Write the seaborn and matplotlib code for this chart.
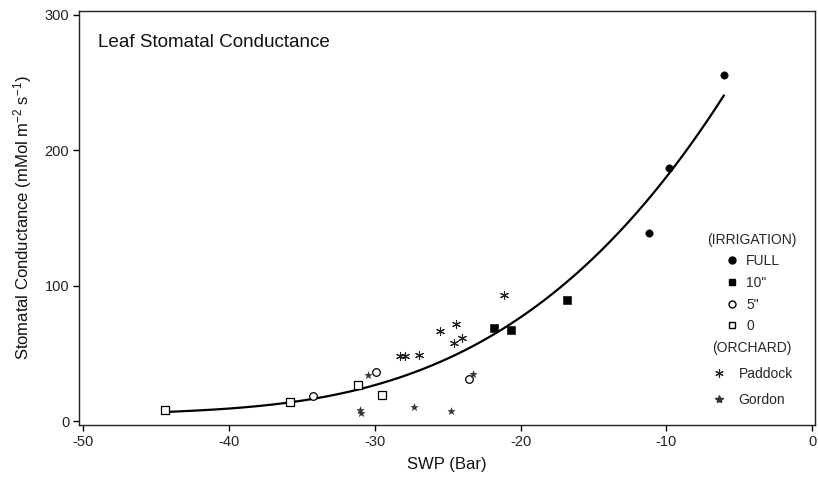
import matplotlib
matplotlib.use("Agg")
import matplotlib.pyplot as plt
from matplotlib.lines import Line2D
import seaborn as sns

# ---- data ----
full_x = [-6.05, -9.84, -11.19]
full_y = [255.2, 186.9, 138.9]
ten_x = [-16.83, -20.66, -21.81]
ten_y = [89.2, 67.1, 68.9]
five_x = [-23.52, -29.93, -34.25]
five_y = [31.3, 36.1, 19.0]
zero_x = [-29.52, -31.16, -35.85, -44.41]
zero_y = [19.2, 27.1, 14.3, 8.6]
paddock_x = [-21.16, -24.43, -25.53, -24.55, -24.02, -28.27, -27.93, -26.94]
paddock_y = [92.9, 72.0, 66.4, 57.8, 61.7, 47.9, 48.5, 49.2]
gordon_x = [-30.44, -23.29, -31.00, -30.94, -27.29, -24.79]
gordon_y = [33.9, 35.0, 8.1, 6.2, 10.3, 7.4]

# points
fit_x = [-44.4, -42.0, -40.0, -38.0, -35.85, -33.05, -31.68, -30.03, -27.12,
         -26.21, -25.53, -22.79, -20.96, -18.68, -16.40, -14.11, -11.83,
         -9.55, -7.72, -6.05]
fit_y = [6.9, 8.1, 9.1, 11.6, 14.3, 18.4, 22.1, 26.3, 38.1,
         40.6, 45.0, 55.8, 70.6, 87.3, 105.7, 129.1, 157.4,
         187.5, 214.0, 239.2]

x_ticks = [-50, -40, -30, -20, -10, 0]
y_ticks = [0, 100, 200, 300]
irr_labels = ["FULL", '10"', '5"', "0"]
orch_labels = ["Paddock", "Gordon"]

sns.set_theme(style="white")
plt.rcParams["font.family"] = ["Liberation Sans", "DejaVu Sans"]
plt.rcParams["mathtext.default"] = "regular"

fig = plt.figure(figsize=(8.18, 4.87), dpi=100)
ax = fig.add_axes([79 / 818, 1 - 425 / 487, 736 / 818, 414 / 487])

# fitted curve (smooth polynomial fit through the curve readings)
sns.regplot(x=fit_x, y=fit_y, ax=ax, order=3, scatter=False, ci=None,
            truncate=True, line_kws=dict(color="black", linewidth=1.6))

asterisk = (6, 2, 0)
groups = [
    (full_x, full_y, dict(marker="o", color="black", edgecolor="black", s=28)),
    (ten_x, ten_y, dict(marker="s", color="black", edgecolor="black", s=28)),
    (five_x, five_y, dict(marker="o", color="white", edgecolor="black", s=30, linewidth=0.9)),
    (zero_x, zero_y, dict(marker="s", color="white", edgecolor="black", s=30, linewidth=0.9)),
    (paddock_x, paddock_y, dict(marker=asterisk, color="#222222", s=34, linewidth=0.8)),
    (gordon_x, gordon_y, dict(marker="*", color="#333333", edgecolor="#333333", s=30, linewidth=0.3)),
]
for gx, gy, kw in groups:
    sns.scatterplot(x=gx, y=gy, ax=ax, legend=False, zorder=3, **kw)

ax.set_xlim(-50.3, 0.2)
ax.set_ylim(-2.7, 302.6)
ax.set_xticks(x_ticks)
ax.set_yticks(y_ticks)
ax.set_xticklabels([str(v) for v in x_ticks])
ax.set_yticklabels([str(v) for v in y_ticks])
ax.tick_params(axis="both", which="both", direction="out", length=4, width=1,
               color="black", labelsize=10.5, labelcolor="#222222", pad=3,
               bottom=True, left=True, top=False, right=False)
for sp in ax.spines.values():
    sp.set_visible(True)
    sp.set_color("#222222")
    sp.set_linewidth(1.0)

ax.set_xlabel("SWP (Bar)", fontsize=12, color="#111111", labelpad=6)
ax.set_ylabel("Stomatal Conductance (mMol m$^{-2}$ s$^{-1}$)", fontsize=12,
              color="#111111", labelpad=8)
ax.text(0.026, 0.923, "Leaf Stomatal Conductance", transform=ax.transAxes,
        fontsize=13.6, color="#111111", ha="left", va="center")

# legends
irr_handles = [
    Line2D([], [], marker="o", ls="", color="black", markersize=5),
    Line2D([], [], marker="s", ls="", color="black", markersize=5),
    Line2D([], [], marker="o", ls="", markerfacecolor="white", markeredgecolor="black", markersize=5),
    Line2D([], [], marker="s", ls="", markerfacecolor="white", markeredgecolor="black", markersize=5),
]
orch_handles = [
    Line2D([], [], marker=asterisk, ls="", color="#222222", markersize=6, markeredgewidth=0.8),
    Line2D([], [], marker="*", ls="", color="#333333", markersize=6),
]
leg1 = ax.legend(irr_handles, irr_labels, title="(IRRIGATION)", loc="center",
                 bbox_to_anchor=(0.914, 0.343), frameon=False, fontsize=10,
                 title_fontsize=10, handlelength=1.2, handletextpad=0.45,
                 labelspacing=0.55, borderpad=0)
ax.add_artist(leg1)
leg2 = ax.legend(orch_handles, orch_labels, title="(ORCHARD)", loc="center",
                 bbox_to_anchor=(0.914, 0.123), frameon=False, fontsize=10,
                 title_fontsize=10, handlelength=1.2, handletextpad=0.8,
                 labelspacing=0.85, borderpad=0)

fig.savefig("out.png", dpi=100, facecolor="white")
